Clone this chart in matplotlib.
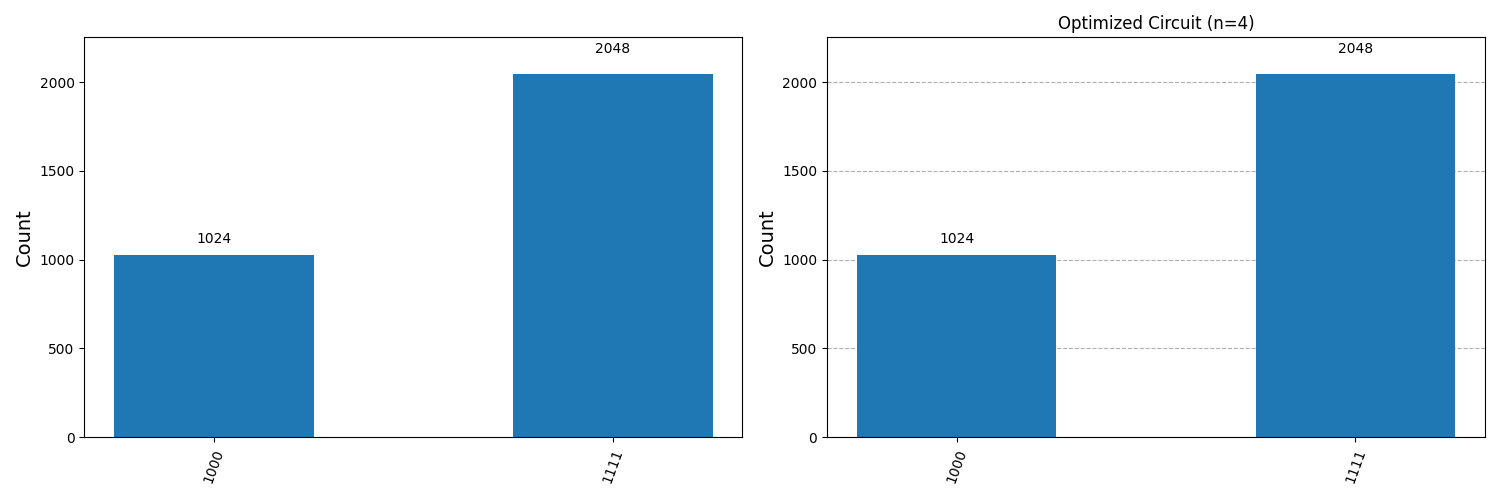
import matplotlib
matplotlib.use("Agg")
import matplotlib.pyplot as plt

states = ["1000", "1111"]
counts_original = [1024, 2048]
counts_optimized = [1024, 2048]


def draw_hist(ax, labels, values, title=None, grid=False):
    xs = list(range(len(labels)))
    bars = ax.bar(xs, values, width=0.5, color="#1f77b4")
    for rect, v in zip(bars, values):
        ax.text(rect.get_x() + rect.get_width() / 2.0, 1.05 * v, str(v),
                ha="center", va="bottom")
    ax.set_xticks(xs)
    ax.set_xticklabels(labels, rotation=70)
    ax.set_ylim(0, 1.1 * max(values))
    ax.set_ylabel("Count", fontsize=14)
    if grid:
        ax.yaxis.grid(True, linestyle="--", color="#b0b0b0")
        ax.set_axisbelow(True)
    if title:
        ax.set_title(title)


fig, (ax1, ax2) = plt.subplots(1, 2, figsize=(15, 5), dpi=100)
draw_hist(ax1, states, counts_original)
draw_hist(ax2, states, counts_optimized, title="Optimized Circuit (n=4)", grid=True)
plt.tight_layout()
plt.savefig("out.png")
